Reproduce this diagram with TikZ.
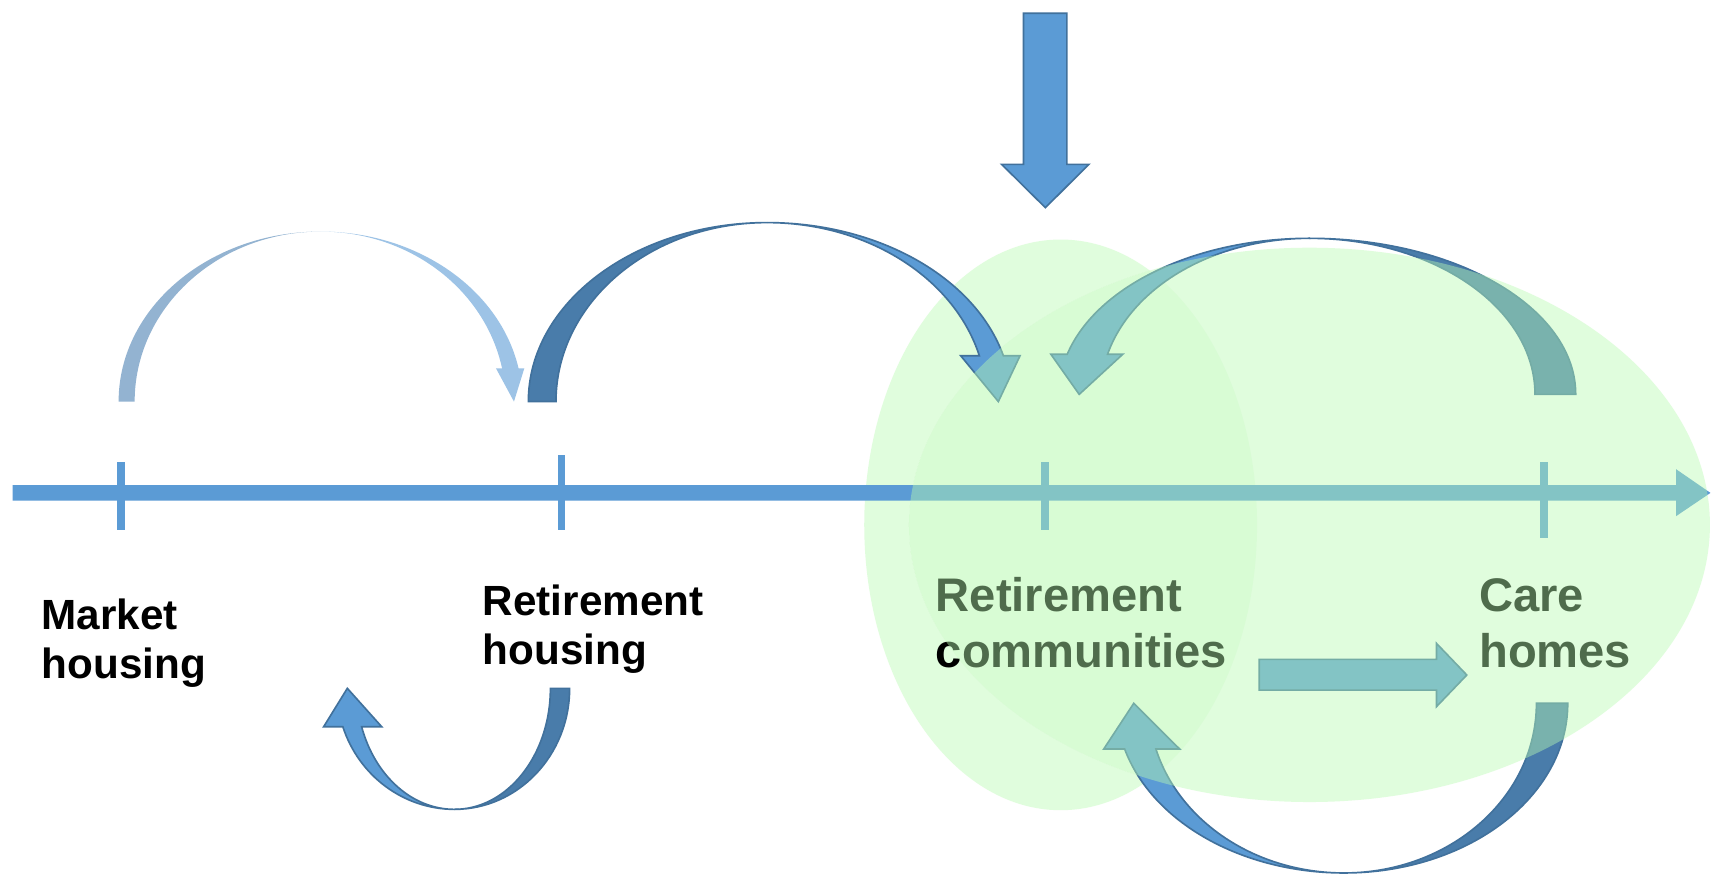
\documentclass[tikz,border=0pt]{standalone}
\usepackage{fontspec}
\setmainfont{Liberation Sans}
\definecolor{accent}{HTML}{5B9BD5}
\definecolor{accentdk}{HTML}{497CAA}
\definecolor{outl}{HTML}{41719C}
\definecolor{lightA}{HTML}{9DC3E6}
\definecolor{lightAdk}{HTML}{93B3D1}
\definecolor{blob}{RGB}{185,251,178}
\tikzset{
  greenblob/.style={fill=blob, fill opacity=0.43},
  faintblob/.style={fill=blob, fill opacity=0.2},
  axisbar/.style={fill=accent},
  blueshape/.style={fill=accent, draw=outl, line width=1.5pt, line join=miter},
  darkshape/.style={fill=accentdk, draw=outl, line width=1.5pt},
  palelight/.style={fill=lightA},
  paledark/.style={fill=lightAdk},
  lblsmall/.style={inner sep=0pt, anchor=base west, font=\fontsize{38.7pt}{45.5pt}\selectfont\bfseries},
  lblbig/.style={inner sep=0pt, anchor=base west, font=\fontsize{43.2pt}{51.1pt}\selectfont\bfseries},
}
\begin{document}
\begin{tikzpicture}[x=1pt, y=-1pt]
\useasboundingbox (0,0) rectangle (1568,802);
\fill[white] (0,0) rectangle (1568,802);

% tall ellipse (behind): full tint outside the wide ellipse, faint inside it
\begin{scope}[even odd rule]
  \clip (-10,-10) rectangle (1580,815) (1200,481) ellipse[x radius=367pt, y radius=254pt];
  \fill[greenblob] (972,481) ellipse[x radius=180pt, y radius=261.5pt];
\end{scope}
\begin{scope}
  \clip (1200,481) ellipse[x radius=367pt, y radius=254pt];
  \fill[faintblob] (972,481) ellipse[x radius=180pt, y radius=261.5pt];
\end{scope}

% time line with ticks
\fill[axisbar] (11.6,444.5) -- (1536,444.5) -- (1536,430) -- (1567.5,451.7) -- (1536,473) -- (1536,458.8) -- (11.6,458.8) -- cycle;
\fill[axisbar] (107.3,423.6) rectangle (114.3,485.8);
\fill[axisbar] (511,417) rectangle (518,486);
\fill[axisbar] (954.2,423.7) rectangle (961.2,485.7);
\fill[axisbar] (1411.5,423.7) rectangle (1418.5,492.7);

% top down arrow
\filldraw[blueshape] (938,12.2) -- (977.7,12.2) -- (977.7,150.6) -- (997.9,150.6) -- (958,190.3) -- (917.9,150.6) -- (938,150.6) -- cycle;

% arc 1: market housing -> retirement housing (pale)
\fill[paledark] (108.7,368) arc[start angle=180, end angle=90, x radius=185.2pt, y radius=155.8pt]
  arc[start angle=90, end angle=180, x radius=170.5pt, y radius=155.8pt] -- cycle;
\fill[palelight] (293.9,212.2) arc[start angle=90, end angle=11.29, x radius=184.9pt, y radius=155.8pt]
  -- (480.5,337.5) -- (471,368) -- (454.5,337.5) -- (460.1,337.5)
  arc[start angle=11.29, end angle=90, x radius=169.5pt, y radius=155.8pt] -- cycle;

% arc 2: retirement housing -> retirement communities
\filldraw[darkshape] (484.2,368) arc[start angle=180, end angle=90, x radius=218.8pt, y radius=164pt]
  arc[start angle=90, end angle=180, x radius=193.5pt, y radius=164pt] -- cycle;
\filldraw[blueshape] (703,204) arc[start angle=90, end angle=14.84, x radius=224pt, y radius=164pt]
  -- (934.8,326) -- (914.9,368) -- (880.4,326) -- (897.5,326)
  arc[start angle=14.84, end angle=90, x radius=201.2pt, y radius=164pt] -- cycle;

% arc 3: care homes -> retirement communities (top)
\filldraw[darkshape] (1444,361.4) arc[start angle=0, end angle=90, x radius=244pt, y radius=143pt]
  arc[start angle=90, end angle=0, x radius=206.7pt, y radius=143pt] -- cycle;
\filldraw[blueshape] (1200,218.4) arc[start angle=90, end angle=165.09, x radius=229.7pt, y radius=143pt]
  -- (963,324.6) -- (989,361.4) -- (1029,324.6) -- (1015,324.6)
  arc[start angle=165.09, end angle=90, x radius=191.45pt, y radius=143pt] -- cycle;

% arc 4: retirement housing -> market housing (bottom)
\filldraw[darkshape] (522,630.8) arc[start angle=0, end angle=-90, x radius=105.5pt, y radius=110.9pt]
  arc[start angle=-90, end angle=0, x radius=87.9pt, y radius=110.9pt] -- cycle;
\filldraw[blueshape] (416.5,741.7) arc[start angle=-90, end angle=-161.5, x radius=107.9pt, y radius=110.9pt]
  -- (296.6,666) -- (318.3,630.8) -- (349.8,666) -- (331.4,666)
  arc[start angle=-161.5, end angle=-90, x radius=89.7pt, y radius=110.9pt] -- cycle;

% arc 5: care homes -> retirement communities (bottom)
\filldraw[darkshape] (1436.7,644.5) arc[start angle=0, end angle=-90, x radius=205pt, y radius=155.5pt]
  arc[start angle=-90, end angle=0, x radius=176.3pt, y radius=155.5pt] -- cycle;
\filldraw[blueshape] (1231.7,800) arc[start angle=-90, end angle=-164.37, x radius=208.8pt, y radius=155.5pt]
  -- (1011.5,686.4) -- (1039,644.5) -- (1081,686.4) -- (1059.3,686.4)
  arc[start angle=-164.37, end angle=-90, x radius=179pt, y radius=155.5pt] -- cycle;

% straight arrow: retirement communities -> care homes
\filldraw[blueshape] (1154,604.3) -- (1316.4,604.3) -- (1316.4,589.6) -- (1344.2,618.6) -- (1316.4,647.6) -- (1316.4,632.4) -- (1154,632.4) -- cycle;

% labels
\node[lblsmall] (market) at (38,576.5) {\begin{tabular}[t]{@{}l@{}}Market\\housing\end{tabular}};
\node[lblsmall] (rethousing) at (442.3,563.6) {\begin{tabular}[t]{@{}l@{}}Retirement\\housing\end{tabular}};
\node[lblbig] (retcomm) at (857.4,560.5) {\begin{tabular}[t]{@{}l@{}}Retirement\\communities\end{tabular}};
\node[lblbig] (care) at (1355.4,560.5) {\begin{tabular}[t]{@{}l@{}}Care\\homes\end{tabular}};

% wide ellipse (in front)
\fill[greenblob] (1200,481) ellipse[x radius=367pt, y radius=254pt];
\end{tikzpicture}
\end{document}
